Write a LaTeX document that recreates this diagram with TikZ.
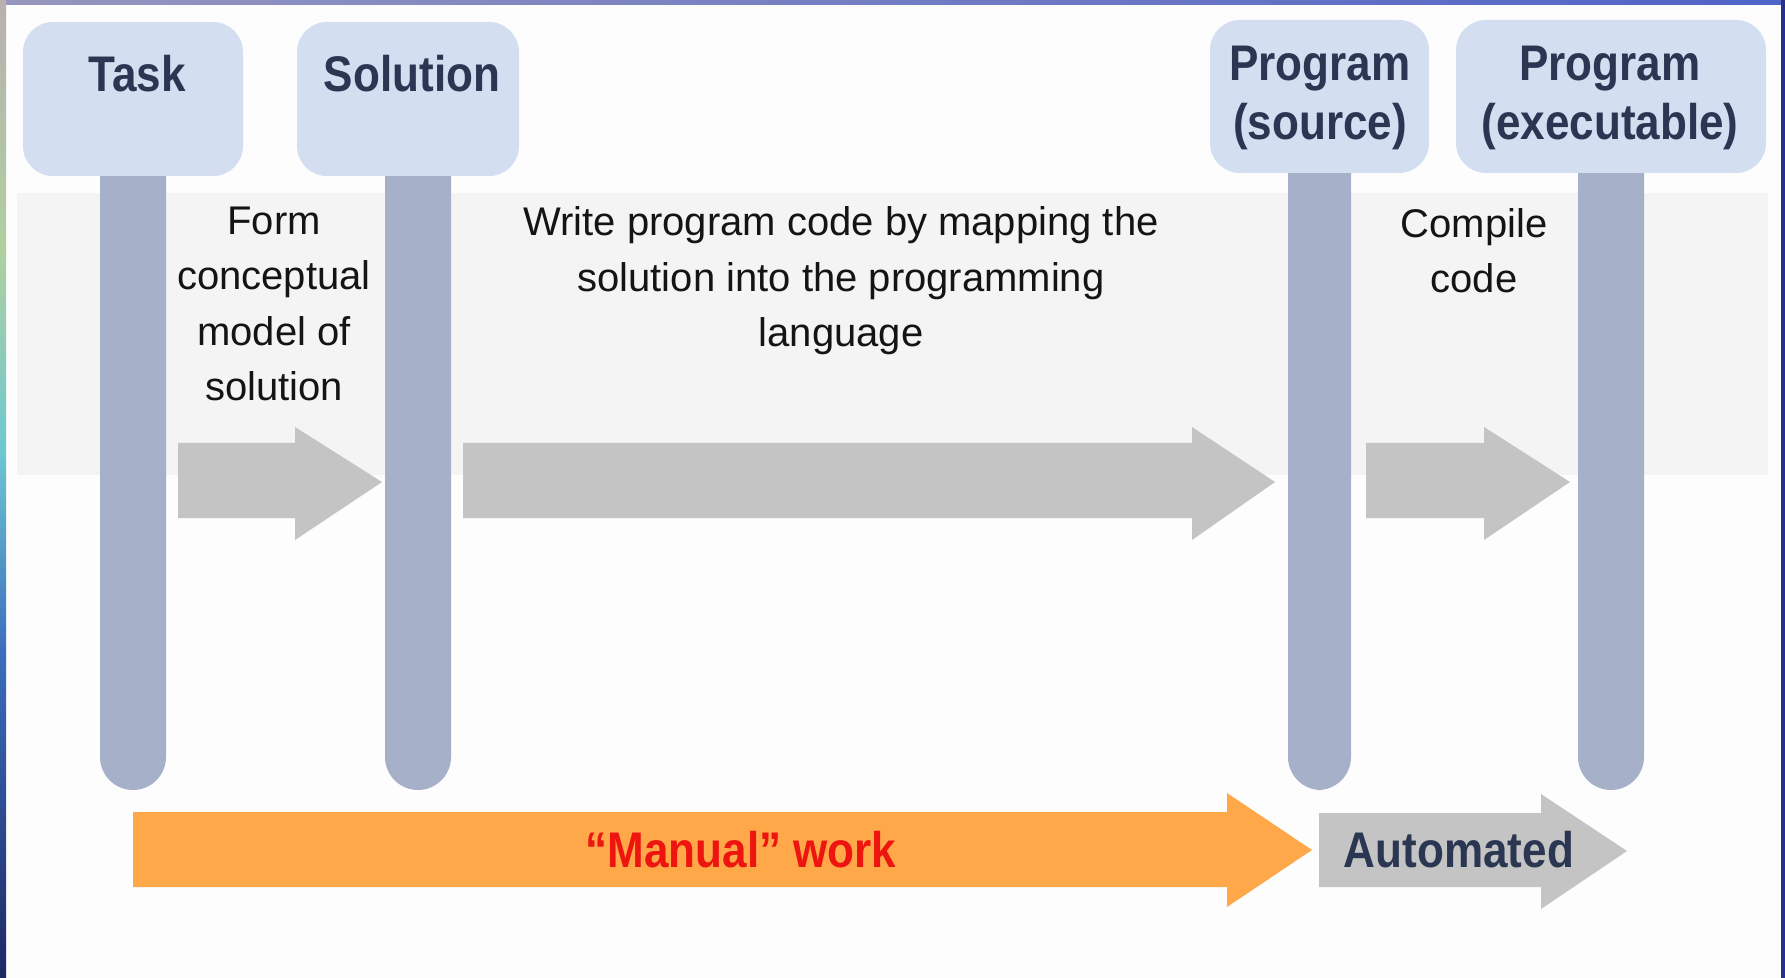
\documentclass[tikz,border=0pt]{standalone}
\usepackage{fontspec}
\setmainfont{Liberation Sans}
\newfontfamily\hdfont[FakeStretch=0.88]{Liberation Sans}
\definecolor{bgc}{HTML}{FDFDFD}
\definecolor{bandc}{HTML}{F4F4F4}
\definecolor{headc}{HTML}{D3DEF0}
\definecolor{barc}{HTML}{A6B1C9}
\definecolor{arrc}{HTML}{C4C4C4}
\definecolor{orc}{HTML}{FFA84A}
\definecolor{redc}{HTML}{EE1410}
\definecolor{navyc}{HTML}{2B3752}
\definecolor{txtc}{HTML}{141414}
\definecolor{fa}{RGB}{184,176,176}
\definecolor{fb}{RGB}{176,208,160}
\definecolor{fc}{RGB}{110,200,210}
\definecolor{fd}{RGB}{60,110,190}
\definecolor{fe}{RGB}{30,40,100}
\definecolor{ta}{RGB}{150,150,190}
\definecolor{tb}{RGB}{80,100,200}
\definecolor{ra}{RGB}{40,48,140}
\tikzset{
  headbox/.style={fill=headc, rounded corners=0.75cm},
  barbox/.style={fill=barc, rounded corners=0.825cm},
  grayarrow/.style={fill=arrc},
  headtext/.style={font=\hdfont\bfseries\fontsize{35.6}{42}\selectfont, text=navyc, align=center, inner sep=0pt, anchor=base},
  desctext/.style={font=\fontsize{28.45}{39.5}\selectfont, text=txtc, align=center, inner sep=0pt, anchor=base},
}
\begin{document}
\begin{tikzpicture}[x=0.025cm, y=-0.025cm]
\useasboundingbox (0,0) rectangle (1785,978);
% background and frame
\fill[bgc] (0,0) rectangle (1785,978);
\shade[top color=fa, bottom color=fb] (0,0) rectangle (6,250);
\shade[top color=fb, bottom color=fc] (0,250) rectangle (6,450);
\shade[top color=fc, bottom color=fd] (0,450) rectangle (6,650);
\shade[top color=fd, bottom color=fe] (0,650) rectangle (6,978);
\shade[left color=ta, right color=tb] (6,0) rectangle (1785,5);
\fill[ra] (1781,0) rectangle (1785,978);
% gray band
\fill[bandc] (17,193) rectangle (1768,475);
% bars
\fill[barbox] (100,140) rectangle (166,790);
\fill[barbox] (385,140) rectangle (451,790);
\fill[barbox] (1288,140) rectangle (1351,790);
\fill[barbox] (1578,140) rectangle (1644,790);
% header boxes
\fill[headbox] (23,22) rectangle (243,176);
\fill[headbox] (297,22) rectangle (519,176);
\fill[headbox] (1210,20) rectangle (1429,173);
\fill[headbox] (1456,20) rectangle (1766,173);
\node[headtext] (task) at (137,92) {Task};
\node[headtext] (sol) at (412,92) {Solution};
\node[headtext] (src) at (1320,140) {Program\\(source)};
\node[headtext] (exe) at (1610,140) {Program\\(executable)};
% gray process arrows
\fill[grayarrow] (178,443) -- (295,443) -- (295,427) -- (382,482) -- (295,540) -- (295,518) -- (178,518) -- cycle;
\fill[grayarrow] (463,443) -- (1192,443) -- (1192,427) -- (1275,482) -- (1192,540) -- (1192,518) -- (463,518) -- cycle;
\fill[grayarrow] (1366,443) -- (1484,443) -- (1484,427) -- (1570,482) -- (1484,540) -- (1484,518) -- (1366,518) -- cycle;
% descriptions
\node[desctext] (form) at (274,401) {Form\\conceptual\\model of\\solution};
\node[desctext] (write) at (841,347) {Write program code by mapping the\\solution into the programming\\language};
\node[desctext] (comp) at (1474,293) {Compile\\code};
% bottom arrows
\fill[orc] (133,812) -- (1227,812) -- (1227,793) -- (1312,850) -- (1227,907) -- (1227,887) -- (133,887) -- cycle;
\fill[arrc] (1319,813) -- (1541,813) -- (1541,794) -- (1627,851) -- (1541,909) -- (1541,887) -- (1319,887) -- cycle;
\node[headtext, text=redc] (manual) at (741,867) {“Manual” work};
\node[headtext] (auto) at (1459,867) {Automated};
\end{tikzpicture}
\end{document}
